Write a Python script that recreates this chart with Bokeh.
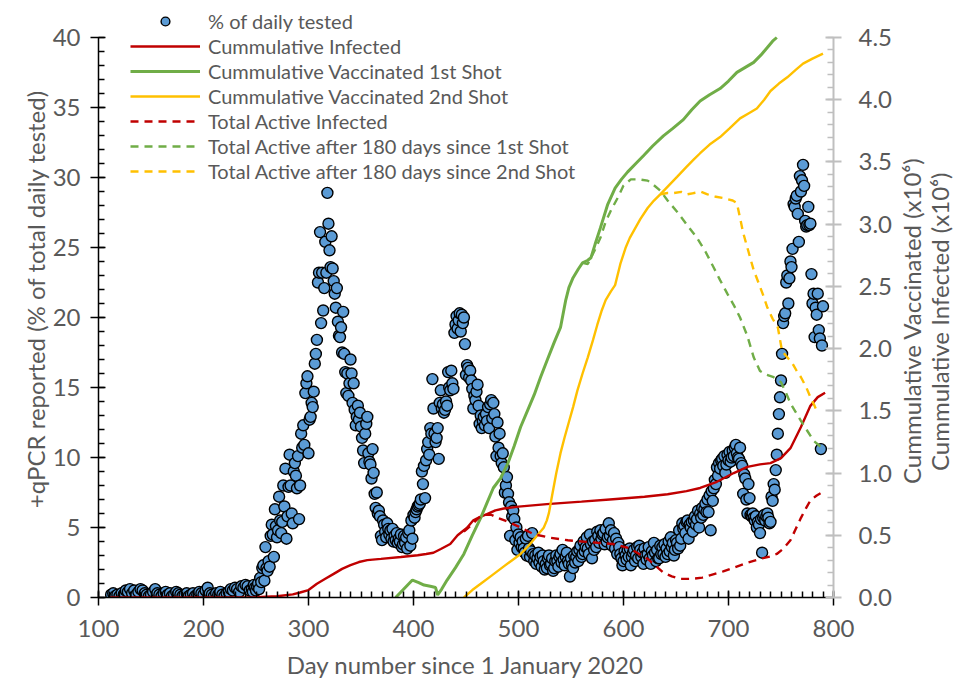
import math
from bokeh.plotting import figure
from bokeh.models import (Range1d, LinearAxis, SingleIntervalTicker, FixedTicker,
                          PrintfTickFormatter, Legend, LegendItem)
from bokeh.embed import file_html
from bokeh.resources import INLINE

# ---------------- data ----------------
# % of daily tested (left axis)
pct_early_start = 112          # every 2 days
pct_early = [0.2, 0.3, 0.1, 0.2, 0.1, 0.3, 0.2, 0.5, 0.4, 0.6,
             0.3, 0.5, 0.2, 0.4, 0.6, 0.5, 0.3, 0.2, 0.1, 0.2,
             0.4, 0.6, 0.3, 0.2, 0.1, 0.3, 0.4, 0.2, 0.3, 0.1,
             0.2, 0.4, 0.3, 0.2, 0.1, 0.2, 0.3, 0.1, 0.2, 0.3,
             0.1, 0.2, 0.4, 0.3, 0.2, 0.5, 0.7, 0.3, 0.2, 0.1,
             0.3, 0.2, 0.4, 0.2, 0.1, 0.3, 0.4, 0.6, 0.5, 0.7,
             0.6, 0.4, 0.8, 0.7, 0.9, 0.8, 0.5]
pct_daily_start = 246          # daily
pct_daily = [
    0.6, 0.4, 0.9, 0.7, 0.5, 0.8, 1.0, 0.6, 1.4, 1.1,        # 246
    2.1, 2.3, 1.2, 3.6, 2.1, 1.9, 2.6, 2.2, 4.4, 5.2,        # 256
    4.5, 2.9, 6.3, 5.1, 4.3, 4.8, 7.2, 5.5, 4.6, 5.4,        # 266
    8.0, 6.5, 9.2, 4.2, 5.8, 7.9, 10.2, 8.0, 6.0, 5.3,       # 276
    9.0, 9.6, 8.7, 7.8, 10.1, 5.6, 8.0, 11.7, 10.7, 12.3,    # 286
    10.9, 14.6, 15.3, 15.8, 10.3, 12.7, 12.9, 13.9, 13.6, 14.7,  # 296
    16.7, 17.4, 18.4, 22.5, 23.2, 26.1, 19.6, 23.2, 20.5, 22.1,  # 306
    25.4, 23.2, 28.9, 26.7, 24.8, 23.6, 25.8, 23.5, 22.6, 21.7,  # 316
    20.7, 22.1, 19.7, 18.7, 18.6, 19.3, 17.5, 20.4, 17.4, 16.1,  # 326
    14.6, 16.0, 14.4, 15.3, 17.0, 16.0, 13.9, 15.3, 13.4, 12.3,  # 336
    12.9, 13.7, 12.7, 13.2, 12.2, 11.4, 10.5, 9.6, 11.7, 12.4,   # 346
    12.9, 10.3, 9.7, 9.5, 8.5, 10.6, 8.9, 7.4, 6.4, 7.5,         # 356
    6.0, 6.2, 5.8, 4.4, 4.1, 5.5, 5.2, 4.7, 4.3, 5.3,            # 366
    4.9, 4.5, 4.8, 4.2, 4.9, 4.0, 4.4, 4.1, 4.6, 3.9,            # 376
    4.2, 4.0, 4.5, 3.6, 3.8, 4.4, 3.9, 4.3, 3.5, 4.6,            # 386
    4.8, 3.7, 5.5, 4.2, 5.9, 5.7, 6.1, 6.3, 6.5, 6.6,            # 396
    6.7, 7.0, 9.0, 8.1, 9.4, 7.1, 9.8, 10.6, 11.1, 10.2,         # 406
    12.1, 11.7, 15.6, 13.5, 11.7, 11.1, 11.4, 12.1, 9.9, 13.9,   # 416
    14.8, 13.5, 13.8, 13.2, 13.4, 14.0, 13.7, 16.1, 15.0, 14.8,  # 426
    16.2, 15.3, 14.9, 18.9, 19.5, 20.1, 19.2, 19.8, 20.3, 19.0,  # 436
    20.2, 19.6, 20.0, 18.1, 15.9, 16.6, 16.4, 15.7, 16.2, 15.5,  # 446
    14.9, 13.5, 14.4, 14.1, 14.7, 15.2, 13.7, 12.4, 13.0, 12.1,  # 456
    12.6, 12.9, 12.3, 13.1, 12.6, 13.6, 12.1, 13.8, 14.1, 12.8,  # 466
    13.9, 13.1, 11.5, 10.1, 12.5, 10.7, 11.7, 10.1, 9.6, 10.3,   # 476
    9.3, 7.5, 8.0, 8.6, 7.4, 6.8, 4.4, 6.5, 5.8, 6.2,            # 486
    5.6, 4.1, 5.0, 3.4, 4.5, 3.9, 4.3, 3.6, 4.0, 3.5,            # 496
    3.2, 4.2, 3.0, 4.4, 3.5, 2.9, 3.3, 4.6, 3.1, 2.6,            # 506
    3.0, 2.4, 2.8, 3.2, 2.5, 2.9, 2.2, 3.0, 2.6, 2.0,            # 516
    2.4, 2.1, 2.8, 3.0, 2.3, 2.4, 2.8, 1.9, 2.1, 2.6,            # 526
    3.0, 2.6, 2.2, 2.9, 3.1, 2.5, 3.4, 2.7, 2.3, 2.9,            # 536
    3.2, 2.6, 2.4, 1.5, 2.8, 2.3, 2.1, 3.0, 2.5, 2.9,            # 546
    3.3, 2.6, 3.4, 3.7, 2.9, 3.1, 4.0, 3.3, 3.6, 4.3,            # 556
    3.5, 3.1, 4.5, 3.8, 2.8, 4.0, 3.4, 4.1, 3.6, 4.7,            # 566
    4.4, 3.9, 4.8, 4.2, 4.5, 4.6, 3.8, 4.9, 4.0, 4.3,            # 576
    5.3, 4.4, 4.8, 3.7, 4.1, 4.6, 3.5, 4.2, 3.1, 3.9,            # 586
    3.6, 3.1, 2.8, 2.3, 2.6, 3.3, 3.0, 2.7, 3.4, 2.9,            # 596
    3.5, 2.3, 2.9, 3.2, 3.4, 2.6, 3.0, 3.6, 2.8, 3.7,            # 606
    3.4, 2.9, 3.2, 2.4, 3.5, 3.0, 2.7, 3.1, 3.6, 2.8,            # 616
    2.4, 3.3, 3.0, 3.9, 3.2, 2.6, 3.4, 2.8, 2.8, 3.7,            # 626
    3.1, 3.6, 3.1, 3.8, 2.9, 3.5, 3.1, 4.0, 3.3, 4.3,            # 636
    3.6, 3.9, 3.0, 3.4, 4.1, 3.9, 3.5, 4.8, 3.7, 4.2,            # 646
    5.3, 4.9, 5.1, 4.6, 5.4, 5.5, 4.2, 5.2, 5.0, 5.4,            # 656
    4.7, 5.5, 5.8, 5.2, 5.6, 6.2, 5.0, 6.0, 5.7, 6.4,            # 666
    5.9, 6.3, 6.7, 6.1, 7.0, 6.1, 7.3, 4.8, 7.6, 6.9,            # 676
    7.8, 8.4, 8.1, 9.3, 8.7, 9.6, 9.2, 9.8, 9.9, 9.4,            # 686
    10.1, 8.9, 9.5, 10.2, 9.8, 10.4, 9.7, 10.0, 10.5, 10.1,      # 696
    10.7, 10.9, 10.3, 10.0, 9.9, 10.7, 9.6, 9.4, 7.4, 8.8,       # 706
    8.5, 7.0, 6.0, 8.1, 7.1, 5.9, 5.8, 6.0, 5.7, 5.5,            # 716
    5.8, 5.0, 5.4, 5.2, 4.6, 5.6, 3.2, 5.7, 5.9, 5.5,            # 726
    5.8, 6.0, 5.7, 5.3, 5.4, 7.2, 6.9, 8.1, 7.7, 9.1,            # 736
    10.2, 11.7, 13.1, 14.3, 15.5, 17.4, 19.6, 20.1, 20.3, 22.5,  # 746
    23.0, 21.0, 22.8, 24.0, 23.6, 24.9, 28.1, 27.9, 28.5, 28.7,  # 756
    27.4, 25.4, 30.1, 29.0, 29.8, 30.9, 29.4, 26.9, 26.5, 26.6,  # 766
    27.9, 26.6, 26.7, 23.1, 21.0, 21.7, 18.6, 20.7, 20.2, 21.7,  # 776
    19.1, 18.5, 10.6, 18.0, 20.8,                                # 786
]
pct_days = list(range(pct_early_start, pct_early_start + 2 * len(pct_early), 2)) + \
           list(range(pct_daily_start, pct_daily_start + len(pct_daily)))
pct_vals = pct_early + pct_daily

# Cumulative infected (x10^6, right axis)
inf_days = [110, 200, 250, 270, 285, 292, 300, 308, 316, 324, 332, 340, 348, 356, 369,
            388, 404, 412, 419, 426, 435, 442, 451, 457, 464, 470, 478, 486, 500, 527,
            560, 590, 620, 642, 660, 673, 689, 705, 718, 730, 740, 750, 759, 769, 778,
            785, 792]
inf_vals = [0.0, 0.0, 0.003, 0.01, 0.025, 0.04, 0.06, 0.11, 0.15, 0.19, 0.23, 0.26, 0.285,
            0.30, 0.31, 0.325, 0.34, 0.35, 0.36, 0.39, 0.43, 0.50, 0.56, 0.62, 0.65, 0.67,
            0.70, 0.715, 0.73, 0.75, 0.77, 0.79, 0.81, 0.83, 0.855, 0.88, 0.93, 1.00, 1.05,
            1.07, 1.08, 1.12, 1.20, 1.37, 1.54, 1.61, 1.645]

# Total active infected
act_days = [448, 455, 462, 468, 474, 480, 488, 495, 505, 514, 530, 547, 575, 590, 604,
            613, 623, 630, 638, 646, 654, 665, 675, 683, 695, 705, 718, 730, 740, 746,
            752, 759, 764, 769, 774, 778, 784, 790]
act_vals = [0.53, 0.58, 0.64, 0.665, 0.665, 0.64, 0.615, 0.59, 0.55, 0.51, 0.48, 0.46,
            0.44, 0.43, 0.40, 0.36, 0.31, 0.26, 0.20, 0.17, 0.15, 0.15, 0.16, 0.18, 0.21,
            0.24, 0.28, 0.31, 0.33, 0.35, 0.39, 0.46, 0.55, 0.64, 0.72, 0.78, 0.82, 0.85]

# Cumulative vaccinated 1st shot
v1_days = [383, 391, 399, 405, 410, 416, 421, 423, 427, 432, 440, 448, 456, 464, 470,
           476, 483, 490, 496, 502, 510, 515, 521, 527, 534, 540, 545, 548, 552, 557,
           561, 566, 569, 573, 578, 585, 592, 598, 604, 612, 619, 628, 638, 647, 657,
           665, 673, 682, 692, 700, 708, 716, 724, 731, 737, 742, 746]
v1_vals = [0.0, 0.07, 0.14, 0.12, 0.10, 0.09, 0.08, 0.02, 0.07, 0.14, 0.24, 0.35, 0.50,
           0.64, 0.76, 0.88, 0.96, 1.08, 1.22, 1.37, 1.53, 1.63, 1.77, 1.90, 2.05, 2.17,
           2.39, 2.49, 2.57, 2.64, 2.69, 2.71, 2.73, 2.84, 2.97, 3.16, 3.29, 3.36, 3.42,
           3.49, 3.55, 3.63, 3.71, 3.77, 3.84, 3.92, 3.99, 4.04, 4.09, 4.15, 4.22, 4.26,
           4.30, 4.36, 4.42, 4.47, 4.50]

# Total active after 180 days since 1st shot
a1_days = [561, 566, 572, 578, 583, 588, 595, 600, 607, 615, 623, 628, 635, 642, 651,
           660, 670, 678, 686, 692, 699, 705, 711, 718, 724, 730, 736, 743, 750, 755,
           759, 764, 769, 775, 781, 788]
a1_vals = [2.69, 2.68, 2.78, 2.89, 3.02, 3.11, 3.22, 3.31, 3.36, 3.36, 3.35, 3.32, 3.27,
           3.19, 3.10, 3.00, 2.89, 2.78, 2.65, 2.55, 2.44, 2.35, 2.25, 2.10, 1.93, 1.82,
           1.79, 1.77, 1.73, 1.64, 1.56, 1.49, 1.42, 1.34, 1.26, 1.21]

# Cumulative vaccinated 2nd shot
v2_days = [448, 456, 464, 475, 486, 494, 502, 508, 514, 519, 524, 527, 529, 532, 536,
           540, 544, 548, 552, 556, 561, 566, 571, 575, 579, 583, 588, 592, 597, 602,
           606, 610, 616, 623, 629, 635, 643, 651, 660, 667, 673, 682, 692, 701, 711,
           719, 727, 734, 740, 748, 756, 764, 771, 780, 790]
v2_vals = [0.0, 0.06, 0.11, 0.18, 0.25, 0.30, 0.35, 0.40, 0.46, 0.51, 0.56, 0.62, 0.68,
           0.82, 1.00, 1.16, 1.29, 1.41, 1.53, 1.66, 1.80, 1.93, 2.07, 2.19, 2.30, 2.39,
           2.46, 2.51, 2.68, 2.81, 2.89, 2.95, 3.04, 3.13, 3.19, 3.24, 3.31, 3.38, 3.46,
           3.52, 3.57, 3.64, 3.70, 3.77, 3.85, 3.89, 3.93, 4.00, 4.07, 4.13, 4.18, 4.24,
           4.29, 4.33, 4.37]

# Total active after 180 days since 2nd shot
a2_days = [635, 642, 648, 655, 661, 667, 674, 680, 688, 695, 699, 704, 708, 711, 714,
           719, 724, 729, 733, 737, 742, 747, 751, 756, 761, 765, 769, 774, 778, 782, 785]
a2_vals = [3.24, 3.25, 3.25, 3.26, 3.24, 3.25, 3.26, 3.24, 3.22, 3.21, 3.20, 3.19, 3.17,
           3.05, 2.93, 2.78, 2.63, 2.52, 2.43, 2.33, 2.24, 2.17, 1.98, 1.93, 1.88, 1.82,
           1.77, 1.69, 1.61, 1.54, 1.48]

x_label = "Day number since 1 January 2020"
left_label = "+qPCR reported (% of total daily tested)"
right_label1 = "Cummulative Vaccinated (x10\u2076)"
right_label2 = "Cummulative Infected (x10\u2076)"
left_max, right_max = 40, 4.5

# ---------------- styling ----------------
FONT = "Lato"
GREY = "#595959"
RED = "#C00000"
GREEN = "#70AD47"
YELLOW = "#FFC000"
BLUE = "#5B9BD5"

W, H = 971, 686
B_LEFT, B_RIGHT, B_BOTTOM = 98, 138, 89
AXIS_TOP = 37                     # px from figure top where the axes end
frame_h = H - B_BOTTOM
axis_h = frame_h - AXIS_TOP
stretch = frame_h / axis_h

p = figure(width=W, height=H, output_backend="svg", toolbar_location=None,
           x_range=Range1d(100, 800), y_range=Range1d(0, left_max * stretch),
           x_axis_type=None, y_axis_type=None,
           min_border_left=B_LEFT, min_border_right=B_RIGHT, min_border_top=0,
           min_border_bottom=B_BOTTOM)
p.outline_line_color = None
p.xgrid.visible = False
p.ygrid.visible = False
p.extra_y_ranges = {"vac": Range1d(0, right_max * stretch)}

def style_axis(ax):
    ax.major_label_text_font = FONT
    ax.major_label_text_font_size = "24px"
    ax.major_label_text_color = GREY
    ax.axis_label_text_font = FONT
    ax.axis_label_text_font_size = "24px"
    ax.axis_label_text_color = GREY
    ax.axis_label_text_font_style = "normal"

def ticks(ax, color, width, maj_in, maj_out, min_in, min_out):
    ax.axis_line_color = color
    ax.axis_line_width = width
    ax.major_tick_line_color = color
    ax.major_tick_line_width = width
    ax.minor_tick_line_color = color
    ax.minor_tick_line_width = width
    ax.major_tick_in = maj_in
    ax.major_tick_out = maj_out
    ax.minor_tick_in = min_in
    ax.minor_tick_out = min_out

xaxis = LinearAxis(ticker=SingleIntervalTicker(interval=100, num_minor_ticks=10),
                   axis_label=x_label)
style_axis(xaxis)
ticks(xaxis, "black", 1.5, 7, 8, 6, 0)
xaxis.major_label_standoff = 14
xaxis.axis_label_standoff = 10
p.add_layout(xaxis, "below")

yaxis = LinearAxis(ticker=SingleIntervalTicker(interval=5, num_minor_ticks=5),
                   axis_label=left_label, bounds=(0, left_max))
style_axis(yaxis)
ticks(yaxis, "black", 1.5, 7, 8, 6, 0)
yaxis.major_label_standoff = 10
yaxis.axis_label_standoff = 0
p.add_layout(yaxis, "left")

raxis = LinearAxis(y_range_name="vac",
                   ticker=SingleIntervalTicker(interval=0.5, num_minor_ticks=5),
                   formatter=PrintfTickFormatter(format="%.1f"),
                   bounds=(0, right_max))
style_axis(raxis)
ticks(raxis, "#BFBFBF", 2, 8, 8, 6, 0)
raxis.minor_tick_line_width = 1.5
raxis.major_label_standoff = 17
p.add_layout(raxis, "right")

# right-hand titles (read bottom-to-top like the reference); each is a single
# rotated label that starts at the bottom of its text, centred on the axis
px_per_unit = axis_h / right_max
title_len_px = {right_label1: 333, right_label2: 307}
for label, standoff in ((right_label1, 16), (right_label2, -4)):
    start = right_max / 2 - (title_len_px[label] / 2) / px_per_unit
    tax = LinearAxis(y_range_name="vac", ticker=FixedTicker(ticks=[start]),
                     major_label_overrides={start: label})
    style_axis(tax)
    tax.axis_line_color = None
    tax.major_tick_line_color = None
    tax.minor_tick_line_color = None
    tax.major_tick_out = 0
    tax.major_tick_in = 0
    tax.minor_tick_out = 0
    tax.minor_tick_in = 0
    tax.major_label_standoff = standoff
    tax.major_label_orientation = math.pi / 2
    p.add_layout(tax, "right")

# ---------------- glyphs ----------------
r_pct = p.scatter(pct_days, pct_vals, size=11, marker="circle", fill_color=BLUE,
                  line_color="black", line_width=1.4)
r_inf = p.line(inf_days, inf_vals, y_range_name="vac", line_color=RED, line_width=2.4)
r_v1 = p.line(v1_days, v1_vals, y_range_name="vac", line_color=GREEN, line_width=3)
r_v2 = p.line(v2_days, v2_vals, y_range_name="vac", line_color=YELLOW, line_width=2.4)
r_act = p.line(act_days, act_vals, y_range_name="vac", line_color=RED, line_width=2.4,
               line_dash="8 6")
r_a1 = p.line(a1_days, a1_vals, y_range_name="vac", line_color=GREEN, line_width=2.4,
              line_dash="8 6")
r_a2 = p.line(a2_days, a2_vals, y_range_name="vac", line_color=YELLOW, line_width=2.4,
              line_dash="8 6")

legend = Legend(items=[
    LegendItem(label="% of daily tested", renderers=[r_pct]),
    LegendItem(label="Cummulative Infected", renderers=[r_inf]),
    LegendItem(label="Cummulative Vaccinated 1st Shot", renderers=[r_v1]),
    LegendItem(label="Cummulative Vaccinated 2nd Shot", renderers=[r_v2]),
    LegendItem(label="Total Active Infected", renderers=[r_act]),
    LegendItem(label="Total Active after 180 days since 1st Shot", renderers=[r_a1]),
    LegendItem(label="Total Active after 180 days since 2nd Shot", renderers=[r_a2]),
], location=(32, 414))
legend.background_fill_alpha = 0
legend.border_line_color = None
legend.padding = 0
legend.margin = 0
legend.spacing = 1
legend.glyph_width = 70
legend.glyph_height = 22
legend.label_height = 22
legend.label_standoff = 8
legend.label_text_font = FONT
legend.label_text_font_size = "20px"
legend.label_text_color = GREY
p.add_layout(legend, "center")

open("out.html", "w").write(file_html(p, INLINE))
